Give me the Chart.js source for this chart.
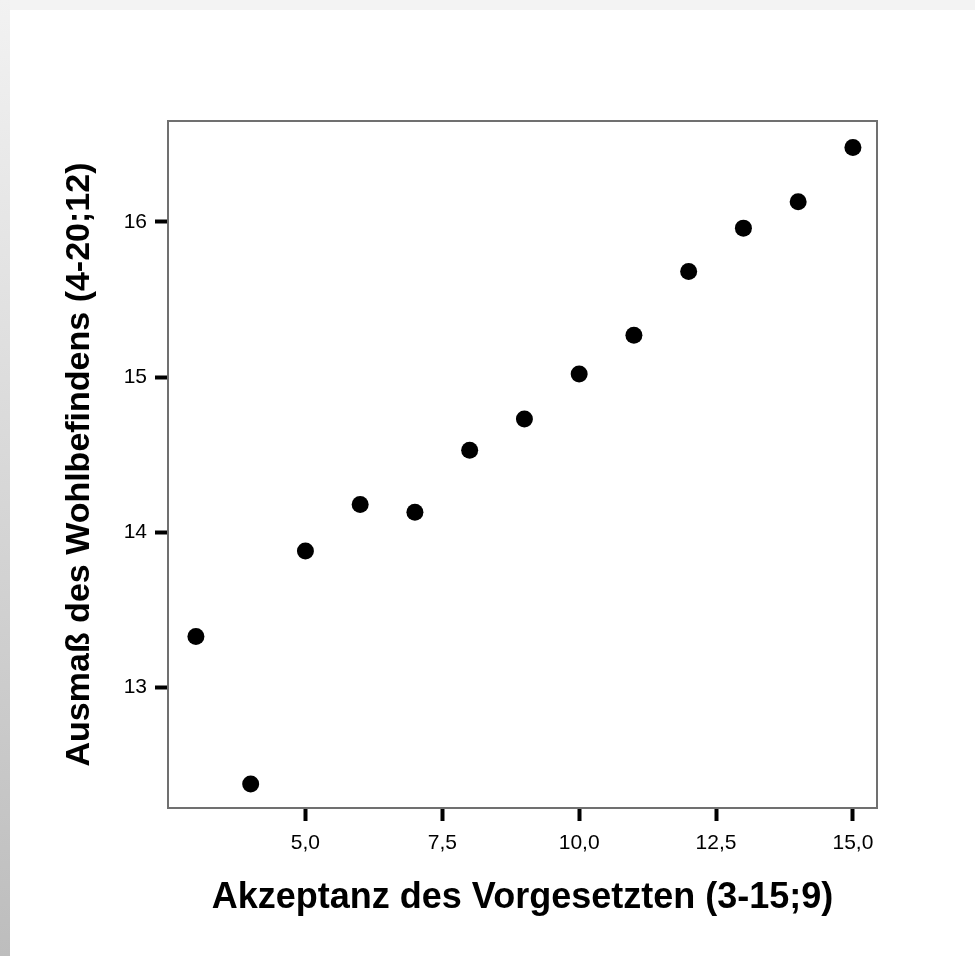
<!DOCTYPE html>
<html>
<head>
<meta charset="utf-8">
<script src="https://cdn.jsdelivr.net/npm/chart.js@4/dist/chart.umd.min.js"></script>
<style>
html, body { margin: 0; padding: 0; background: #fff; }
#wrap { position: relative; width: 975px; height: 956px; overflow: hidden; }
#topbar { position: absolute; left: 0; top: 0; width: 975px; height: 10px; background: #f3f3f3; }
#leftbar { position: absolute; left: 0; top: 0; width: 10px; height: 956px; background: linear-gradient(to bottom, #f2f2f2, #bdbdbd); }
#chart { position: absolute; left: 0; top: 0; }
</style>
</head>
<body>
<div id="wrap">
  <div id="topbar"></div>
  <div id="leftbar"></div>
  <canvas id="chart" width="975" height="956"></canvas>
</div>
<script>
// Akzeptanz des Vorgesetzten vs. Ausmass des Wohlbefindens (mean per score)
const xValues = [3, 4, 5, 6, 7, 8, 9, 10, 11, 12, 13, 14, 15];
const yValues = [13.33, 12.38, 13.88, 14.18, 14.13, 14.53, 14.73, 15.02, 15.27, 15.68, 15.96, 16.13, 16.48];
const xTicks = [5, 7.5, 10, 12.5, 15];
const yTicks = [13, 14, 15, 16];
const xTitle = 'Akzeptanz des Vorgesetzten (3-15;9)';
const yTitle = 'Ausmaß des Wohlbefindens (4-20;12)';

let points = [];
for (let i = 0; i < xValues.length; i++) {
    points.push({x: xValues[i], y: yValues[i]});
}

// box round the plot area
const frame = {
    id: 'frame',
    afterDraw(chart) {
        const ctx = chart.ctx;
        const a = chart.chartArea;
        ctx.save();
        ctx.strokeStyle = '#707070';
        ctx.lineWidth = 2;
        ctx.strokeRect(a.left, a.top, a.right - a.left, a.bottom - a.top);
        ctx.restore();
    }
};

const tickFont = {family: '"Liberation Sans", Arial, sans-serif', size: 21};

var ctx = document.getElementById('chart').getContext('2d');
var chart = new Chart(ctx, {
    type: 'scatter',
    data: {
        datasets: [{
            data: points,
            backgroundColor: '#000',
            borderColor: '#000',
            borderWidth: 0,
            pointRadius: 8.5,
            pointHoverRadius: 8.5
        }]
    },
    options: {
        responsive: false,
        animation: false,
        layout: {padding: {top: 121, right: 98, left: 0, bottom: 0}},
        plugins: {legend: {display: false}, tooltip: {enabled: false}},
        scales: {
            x: {
                type: 'linear',
                min: 2.49,
                max: 15.44,
                afterBuildTicks: s => { s.ticks = xTicks.map(v => ({value: v})); },
                afterFit: s => { s.height = 148; },
                grid: {display: true, drawOnChartArea: false, drawTicks: true, tickLength: 13, tickWidth: 4, tickColor: '#000'},
                border: {display: false},
                ticks: {
                    color: '#000',
                    font: tickFont,
                    padding: 10,
                    maxRotation: 0,
                    callback: v => v.toFixed(1).replace('.', ',')
                },
                title: {
                    display: true,
                    text: xTitle,
                    color: '#000',
                    font: {family: '"Liberation Sans", Arial, sans-serif', size: 36, weight: 'bold'},
                    padding: {top: 0, bottom: 36}
                }
            },
            y: {
                type: 'linear',
                min: 12.225,
                max: 16.65,
                afterBuildTicks: s => { s.ticks = yTicks.map(v => ({value: v})); },
                afterFit: s => { s.width = 168; },
                grid: {display: true, drawOnChartArea: false, drawTicks: true, tickLength: 13, tickWidth: 4, tickColor: '#000'},
                border: {display: false},
                ticks: {
                    color: '#000',
                    font: tickFont,
                    padding: 8,
                    callback: v => String(v)
                },
                title: {
                    display: true,
                    text: yTitle,
                    color: '#000',
                    font: {family: '"Liberation Sans", Arial, sans-serif', size: 34, weight: 'bold'},
                    padding: {top: 59, bottom: 0}
                }
            }
        }
    },
    plugins: [frame]
});
</script>
</body>
</html>
